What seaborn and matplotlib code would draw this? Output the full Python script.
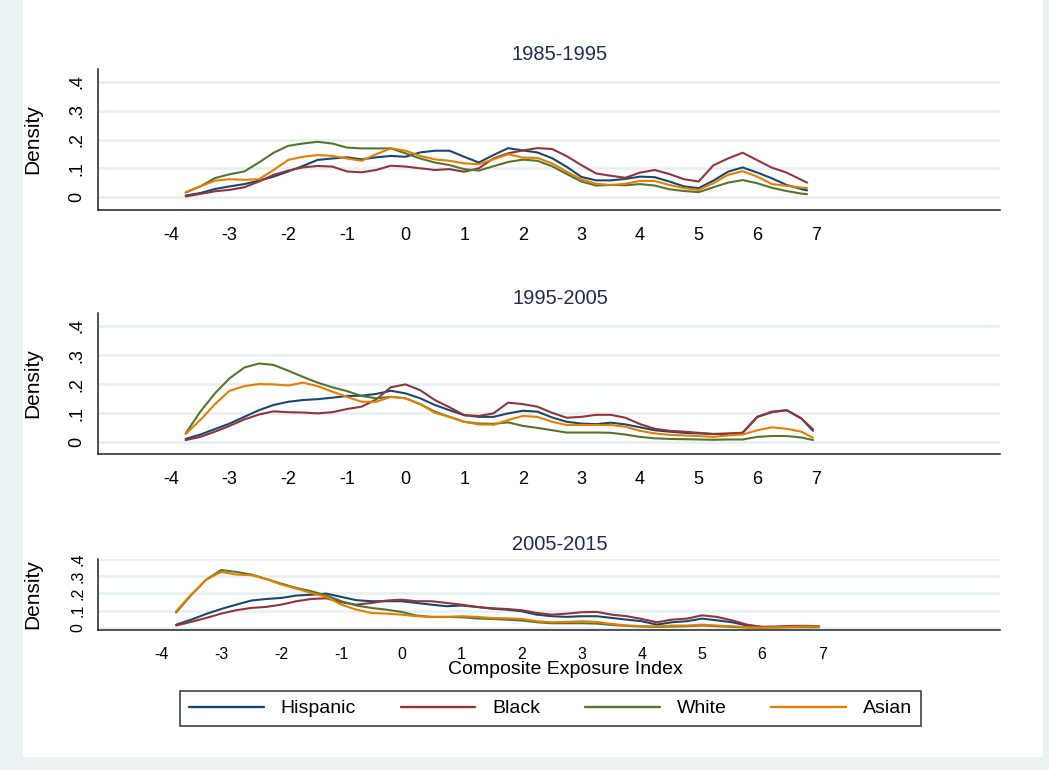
import numpy as np
import pandas as pd
import seaborn as sns
import matplotlib.pyplot as plt
from matplotlib.lines import Line2D
from matplotlib.patches import Rectangle

# ── data (kernel density by group) ─────────────────────────────────────────
GROUPS = ["Hispanic", "Black", "White", "Asian"]
COLORS = {"Hispanic": "#1A476F", "Black": "#90353B",
          "White": "#55752F", "Asian": "#E37E00"}
PERIODS = ["1985-1995", "1995-2005", "2005-2015"]

X_1985 = [-3.75, -3.5, -3.25, -3, -2.75, -2.5, -2.25, -2, -1.75, -1.5, -1.25,
          -1, -0.75, -0.5, -0.25, 0, 0.25, 0.5, 0.75, 1, 1.25, 1.5, 1.75, 2,
          2.25, 2.5, 2.75, 3, 3.25, 3.5, 3.75, 4, 4.25, 4.5, 4.75, 5, 5.25,
          5.5, 5.75, 6, 6.25, 6.5, 6.75, 6.85]
X_LATER = X_1985[:-1] + [6.95]

HISP_1985 = [.005, .014, .028, .037, .045, .057, .071, .089, .108, .129, .134,
             .138, .131, .138, .143, .140, .155, .161, .161, .140, .120, .146,
             .170, .162, .155, .135, .105, .070, .058, .058, .063, .071, .069,
             .054, .037, .031, .057, .088, .103, .085, .065, .042, .028, .023]
BLACK_1985 = [.002, .011, .020, .025, .034, .054, .077, .092, .103, .108, .106,
              .089, .086, .094, .109, .106, .100, .094, .097, .088, .100, .134,
              .152, .162, .170, .167, .142, .111, .082, .074, .067, .085, .094,
              .080, .062, .054, .110, .134, .154, .128, .102, .085, .060, .050]
WHITE_1985 = [.016, .037, .066, .079, .089, .120, .154, .178, .186, .192, .186,
              .172, .169, .169, .169, .152, .134, .120, .111, .097, .092, .107,
              .122, .130, .126, .107, .080, .054, .040, .042, .041, .045, .040,
              .027, .021, .017, .034, .050, .059, .048, .032, .021, .012, .010]
ASIAN_1985 = [.016, .037, .057, .062, .060, .062, .094, .129, .140, .146, .143,
              .134, .126, .149, .169, .161, .143, .131, .126, .117, .114, .131,
              .149, .137, .136, .117, .088, .062, .046, .042, .046, .056, .056,
              .042, .031, .025, .048, .077, .090, .071, .045, .039, .033, .031]

HISP_1995 = [.011, .026, .045, .064, .087, .110, .128, .139, .145, .148, .153,
             .159, .160, .166, .177, .168, .151, .128, .110, .093, .087, .087,
             .099, .108, .105, .085, .070, .064, .062, .067, .061, .051, .041,
             .036, .032, .030, .028, .028, .032, .087, .103, .110, .082, .039]
BLACK_1995 = [.007, .018, .036, .056, .078, .095, .106, .103, .102, .099, .103,
              .114, .122, .147, .189, .199, .179, .145, .120, .093, .090, .099,
              .136, .131, .122, .101, .084, .087, .094, .094, .084, .062, .046,
              .039, .036, .032, .028, .030, .032, .087, .105, .110, .082, .044]
WHITE_1995 = [.030, .105, .168, .220, .257, .271, .266, .246, .225, .205, .189,
              .176, .159, .151, .156, .151, .131, .105, .087, .070, .064, .063,
              .068, .056, .049, .041, .033, .033, .033, .032, .026, .018, .013,
              .011, .010, .009, .008, .009, .009, .018, .021, .021, .016, .007]
ASIAN_1995 = [.028, .076, .131, .177, .193, .200, .199, .195, .205, .193, .174,
              .156, .139, .139, .156, .151, .131, .101, .087, .070, .061, .060,
              .076, .090, .087, .070, .059, .059, .059, .059, .053, .039, .030,
              .025, .023, .021, .018, .023, .026, .041, .051, .046, .036, .015]

HISP_2005 = [.019, .048, .081, .110, .135, .159, .168, .174, .188, .193, .199,
             .180, .161, .155, .155, .155, .145, .135, .126, .130, .122, .112,
             .106, .097, .077, .068, .064, .068, .068, .058, .048, .039, .019,
             .033, .039, .054, .044, .033, .014, .006, .006, .008, .008, .008]
BLACK_2005 = [.014, .035, .058, .083, .103, .116, .122, .135, .155, .168, .172,
              .149, .135, .145, .159, .164, .155, .155, .145, .135, .122, .114,
              .110, .103, .087, .077, .083, .091, .093, .077, .068, .052, .033,
              .048, .054, .073, .064, .044, .019, .006, .008, .012, .012, .010]
WHITE_2005 = [.090, .190, .280, .336, .325, .310, .284, .257, .232, .213, .188,
              .155, .130, .116, .106, .093, .072, .064, .064, .062, .055, .052,
              .048, .043, .033, .027, .027, .027, .025, .017, .012, .008, .006,
              .008, .010, .014, .010, .006, .002, .002, .002, .004, .004, .004]
ASIAN_2005 = [.097, .193, .280, .325, .310, .306, .284, .252, .228, .203, .180,
              .135, .106, .087, .083, .077, .068, .064, .064, .068, .064, .058,
              .056, .052, .039, .033, .035, .039, .035, .023, .015, .010, .008,
              .014, .014, .019, .014, .010, .004, .002, .004, .006, .008, .008]

PANELS = [
    (X_1985, [HISP_1985, BLACK_1985, WHITE_1985, ASIAN_1985]),
    (X_LATER, [HISP_1995, BLACK_1995, WHITE_1995, ASIAN_1995]),
    (X_LATER, [HISP_2005, BLACK_2005, WHITE_2005, ASIAN_2005]),
]

# ── figure layout (pixel boxes of the reference, 1049 x 770) ───────────────
W, H = 1049, 770
BOXES = [(98, 69, 1000, 210), (98, 313, 1000, 454), (98, 559, 1000, 630)]
YLIMS = [(-0.045, 0.445), (-0.041, 0.445), (-0.012, 0.40)]
XLIMS = [(-5.245, 10.14), (-5.245, 10.14), (-5.05, 9.96)]
TICK_FS = [13, 13, 11.5]

sns.set_theme(style="white", rc={"text.color": "black",
                                 "axes.labelcolor": "black",
                                 "xtick.color": "black",
                                 "ytick.color": "black"})
plt.rcParams["font.family"] = ["Liberation Sans", "DejaVu Sans"]
plt.rcParams["axes.unicode_minus"] = False

fig = plt.figure(figsize=(W / 100, H / 100), dpi=100, facecolor="#EAF2F3")
fig.patches.append(Rectangle((23 / W, 13 / H), 1020 / W, 757 / H,
                             transform=fig.transFigure, facecolor="white",
                             edgecolor="none", zorder=-5))

for i, ((x, series), box) in enumerate(zip(PANELS, BOXES)):
    l, t, r, b = box
    ax = fig.add_axes([l / W, (H - b) / H, (r - l) / W, (b - t) / H])
    ax.set_facecolor("none")

    df = pd.DataFrame({
        "x": x * len(GROUPS),
        "density": sum(series, []),
        "group": np.repeat(GROUPS, len(x)),
    })
    sns.lineplot(data=df, x="x", y="density", hue="group", palette=COLORS,
                 hue_order=GROUPS, estimator=None, linewidth=1.5,
                 legend=False, ax=ax)

    ax.set_xlim(*XLIMS[i])
    ax.set_ylim(*YLIMS[i])
    ax.set_xticks(range(-4, 8))
    ax.set_yticks([0, 0.1, 0.2, 0.3, 0.4])
    ax.set_yticklabels(["0", ".1", ".2", ".3", ".4"], rotation=90, va="center")
    ax.grid(axis="y", color="#E6EFF1", linewidth=1.8)
    ax.set_axisbelow(True)
    for side in ["top", "right"]:
        ax.spines[side].set_visible(False)
    for side in ["left", "bottom"]:
        ax.spines[side].set_color("#222222")
        ax.spines[side].set_linewidth(1.1)
    ax.tick_params(axis="both", direction="out", length=6, width=0.9,
                   color="#222222", labelsize=TICK_FS[i], labelcolor="black")
    ax.tick_params(axis="x", pad=6)
    ax.tick_params(axis="y", pad=3)
    ax.set_xlabel("")
    ax.set_ylabel("Density", fontsize=15)
    ax.yaxis.set_label_coords(-56 / (r - l), 0.5)

    ax.text((560 - l) / (r - l), 1 + 14 / (b - t), PERIODS[i],
            transform=ax.transAxes, ha="center", va="center",
            fontsize=14.5, color="#1E2D53")

fig.text(565 / W, (H - 670) / H, "Composite Exposure Index",
         ha="center", va="center", fontsize=14)

# legend box: left edge at x=180 px, top at y=691 px
handles = [Line2D([], [], color=COLORS[g], linewidth=1.7) for g in GROUPS]
leg = fig.legend(handles, GROUPS, loc="upper left", ncol=4,
                 bbox_to_anchor=(180 / W, (H - 691) / H), borderaxespad=0,
                 frameon=True, fancybox=False, edgecolor="black",
                 fontsize=14, handlelength=3.85, handletextpad=0.87,
                 columnspacing=2.3, borderpad=0.45)
leg.get_frame().set_linewidth(1.1)

fig.savefig("out.png", dpi=100, facecolor=fig.get_facecolor())
